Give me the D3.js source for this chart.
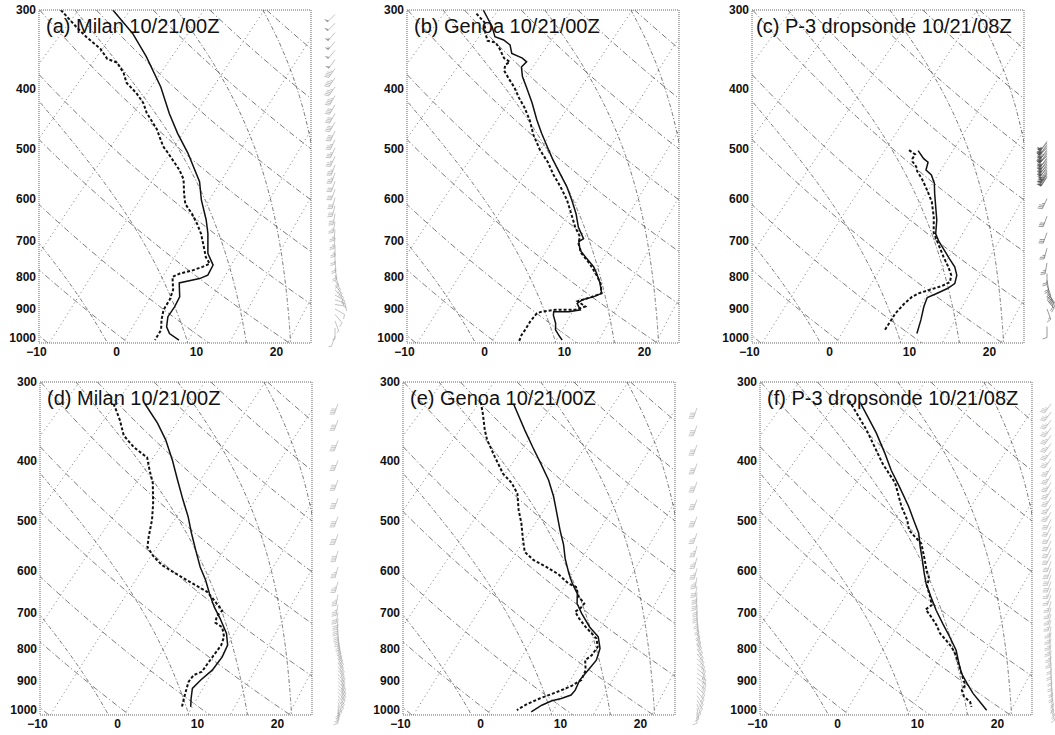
<!DOCTYPE html>
<html>
<head>
<meta charset="utf-8">
<script src="https://cdn.jsdelivr.net/npm/d3@7"></script>
<style>
  body { margin: 0; background: #fff; }
  svg { display: block; font-family: "Liberation Sans", Arial, Helvetica, sans-serif; }
</style>
</head>
<body>
<svg id="chart" width="1055" height="735"></svg>
<script>
// ---------------- axis ticks ----------------
const pressureTicks = [300, 400, 500, 600, 700, 800, 900, 1000];
const tempTicks = [-10, 0, 10, 20];

// ---------------- background isopleths ----------------
const dryAdiabatsC = [-40, -30, -20, -10, 0, 10, 20, 30, 40, 50, 60, 70, 80, 90]; // potential temperature, deg C
const moistThetaE = [280, 300, 320, 340, 360, 380];                               // saturated theta-e, K
const mixingRatios = [0.2, 0.4, 1, 2, 4, 7, 10, 16, 24];                          // g/kg

// ---------------- soundings: pressure (hPa) / temperature (deg C) ----------------
const aSolidP = [300,327,356,398,439,472,508,564,603,649,682,734,766,795,805,818,861,893,926,961,985,1009];
const aSolidT = [-42.0,-36.6,-32.0,-26.4,-22.0,-18.5,-14.7,-9.7,-7.2,-4.1,-2.2,0.3,2.4,3.0,2.4,0.4,2.2,2.8,3.2,4.3,5.5,7.5];
const aDashP = [300,319,331,346,359,364,378,392,407,422,438,465,495,506,525,540,559,590,612,635,659,683,717,744,762,771,781,790,800,839,870,903,937,972,1009];
const aDashT = [-48.5,-44.5,-42.0,-38.7,-36.6,-34.9,-32.8,-31.2,-28.7,-26.6,-24.9,-21.6,-18.7,-17.4,-15.3,-13.7,-12.0,-10.1,-8.7,-6.6,-4.7,-3.0,-1.0,0.5,1.8,1.3,0.5,-0.7,-1.2,0.5,1.3,1.8,2.8,4.0,4.5];

const bSolidP = [300,319,331,335,341,352,358,363,370,383,398,422,449,472,495,521,547,574,603,635,666,695,703,725,748,771,790,820,850,861,870,882,903,909,909,921,949,972,997,1009];
const bSolidT = [-41.7,-38.5,-36.9,-35.4,-34.0,-32.7,-30.8,-29.8,-29.8,-28.5,-26.7,-24.0,-21.3,-19.0,-16.7,-14.2,-11.7,-9.2,-6.9,-4.6,-2.7,-0.6,-0.8,0.4,2.3,4.2,5.4,7.1,8.5,7.9,6.9,6.7,7.9,6.7,4.8,5.2,6.5,7.3,8.7,9.4];
const bDashP = [304,314,327,336,338,346,358,363,367,375,387,399,414,429,450,475,502,525,550,574,603,635,666,690,708,734,762,795,819,850,861,867,875,892,903,903,909,915,943,972,991,1015];
const bDashT = [-42.1,-40.0,-38.5,-37.3,-36.1,-34.8,-33.1,-31.9,-32.1,-31.5,-29.8,-28.1,-26.3,-24.4,-22.1,-19.8,-17.1,-14.6,-12.3,-10.0,-7.5,-5.2,-3.1,-1.3,-0.6,1.0,3.3,5.6,7.1,8.5,7.7,7.2,6.5,8.1,7.3,4.8,3.3,2.9,3.1,3.5,3.7,4.2];

const cSolidP = [503,518,525,540,550,567,590,618,649,683,703,725,748,771,795,820,835,852,863,892,937,985];
const cSolidT = [-12.9,-11.2,-10.2,-9.5,-8.2,-6.8,-5.4,-3.7,-1.9,-0.3,1.1,2.8,4.5,6.2,7.5,8.3,8.0,7.2,6.6,7.3,8.6,9.8];
const cDashP = [502,510,518,524,530,536,543,559,582,607,641,680,712,744,771,795,815,827,838,850,861,884,915,976];
const cDashT = [-14.1,-12.8,-12.6,-12.2,-11.5,-10.9,-10.4,-8.8,-6.8,-4.8,-2.7,-0.7,1.5,3.6,5.4,6.8,7.5,7.0,6.0,5.0,4.6,4.5,4.6,5.4];

const dSolidP = [325,349,371,400,430,463,492,523,556,592,621,653,685,715,756,789,824,865,897,925,960,990];
const dSolidT = [-35.4,-31.4,-28.3,-24.9,-21.8,-18.6,-15.9,-13.4,-10.8,-8.1,-5.8,-3.6,-1.4,0.8,3.5,5.1,5.9,6.3,6.1,6.1,7.2,8.2];
const dDashP = [325,345,365,381,396,415,435,469,498,530,550,570,588,606,629,648,669,695,709,727,739,765,789,816,844,870,881,903,937,960,990];
const dDashT = [-39.3,-36.5,-34.1,-31.4,-28.4,-26.5,-24.5,-21.9,-20.0,-18.3,-17.2,-15.2,-13.1,-10.4,-7.0,-4.2,-2.2,0.1,0.1,0.8,2.2,3.6,4.3,4.6,4.9,5.2,4.6,4.8,5.7,6.3,7.1];

const eSolidP = [325,358,381,405,430,457,486,517,546,574,606,629,653,677,702,738,765,799,834,865,897,931,948,960,968,984,1008];
const eSolidT = [-34.7,-30.0,-26.9,-23.8,-20.8,-18.1,-15.6,-13.1,-10.8,-8.9,-6.6,-4.9,-3.0,-1.8,0.0,2.7,5.0,6.7,7.7,7.9,8.1,8.8,8.9,8.1,7.2,6.5,6.0];
const eDashP = [323,337,358,371,395,420,435,452,480,504,536,560,577,592,608,629,637,661,677,687,698,715,738,756,770,794,819,834,865,897,917,940,960,980,1002];
const eDashT = [-39.0,-37.3,-35.0,-33.5,-30.4,-27.3,-25.0,-23.0,-20.8,-18.8,-16.5,-14.8,-12.7,-10.2,-7.8,-5.4,-4.0,-2.4,-0.9,-0.8,-1.0,0.3,2.2,3.8,5.0,6.2,6.5,6.3,7.6,8.3,7.8,6.6,5.4,4.5,4.0];

const fSolidP = [325,341,362,390,415,441,474,498,523,550,577,606,629,661,694,729,765,804,844,876,908,942,978,1002];
const fSolidT = [-35.9,-33.4,-30.3,-26.7,-23.8,-20.7,-17.1,-14.8,-12.5,-10.6,-8.7,-6.8,-5.3,-3.0,-0.7,1.8,4.3,6.8,8.8,10.4,12.3,14.3,16.6,18.1];
const fDashP = [321,358,405,435,474,498,517,530,543,570,599,618,633,661,681,692,711,733,756,775,794,819,849,886,914,931,952,972,990];
const fDashT = [-37.8,-31.9,-25.7,-21.7,-18.0,-15.6,-14.1,-12.5,-10.9,-8.9,-6.9,-5.5,-5.0,-3.1,-1.9,-2.1,-0.5,1.2,2.7,4.3,5.8,7.4,9.0,10.9,12.3,12.5,13.5,15.0,15.8];

// ---------------- winds: pressure (hPa), speed (kt), direction (deg) ----------------
const windAP = [305,315,326,337,348,360,372,385,398,411,425,439,453,468,483,498,514,530,546,563,580,598,616,634,653,672,692,712,733,754,775,795,810,825,840,855,870,885,900,918,940,965,995];
const windAS = [50,50,55,55,50,50,45,45,45,45,40,40,40,40,35,35,35,35,35,30,30,30,30,30,25,25,25,25,20,20,20,15,15,20,15,20,15,10,10,10,5,5,5];
const windAD = [225,225,220,220,220,215,215,215,215,210,210,210,210,205,205,205,205,200,200,200,200,195,195,190,190,185,185,180,180,175,170,160,150,140,130,120,110,100,120,140,160,180,200];

const windCP = [486,489,492,495,498,501,504,507,510,513,516,519,522,525,528,531,534,537,540,543,546,549,552,555,600,640,680,720,760,790,810,825,840,850,860,870,900,960];
const windCS = [55,60,60,55,60,65,60,55,60,60,55,60,55,60,55,55,50,55,50,50,45,50,45,50,35,30,30,25,25,20,20,25,30,30,25,20,15,10];
const windCD = [215,220,215,220,225,215,220,215,220,225,215,220,215,220,215,220,215,220,215,210,210,215,210,215,205,200,200,195,190,180,170,160,150,140,130,140,160,180];

const windDP = [325,345,372,400,430,460,492,525,558,592,625,655,680,700,715,730,745,758,770,782,794,806,818,830,842,854,866,878,890,902,914,926,938,950,962,974,986,998,1010];
const windDS = [40,40,40,40,40,40,40,40,40,35,35,35,35,30,30,30,30,30,25,25,25,25,25,20,20,20,20,25,25,30,30,30,25,25,20,20,20,15,15];
const windDD = [200,200,200,200,200,200,200,200,195,195,195,190,190,190,185,185,180,175,170,165,160,155,150,150,145,145,140,140,140,135,135,135,140,145,150,160,170,175,180];

const windEP = [330,352,378,405,433,462,492,523,548,572,595,615,635,650,665,680,695,710,725,740,755,770,785,800,815,830,845,860,875,890,905,920,935,950,965,980,995,1010];
const windES = [40,40,40,40,40,40,40,35,35,35,35,35,30,30,30,30,30,25,25,25,25,25,20,20,20,20,20,20,25,25,25,20,20,20,15,15,15,10];
const windED = [200,200,200,200,200,200,200,200,195,195,195,190,190,185,185,180,180,175,170,165,160,155,150,145,140,135,130,130,125,125,130,135,140,145,150,160,170,180];

const windFP = [325,335,345,355,365,376,387,398,410,422,434,446,458,471,484,497,510,524,538,552,566,580,595,610,625,640,656,672,688,704,720,737,754,771,788,805,822,840,858,876,894,912,930,948,966,984,1000];
const windFS = [35,35,35,35,35,35,35,35,35,35,35,35,35,35,35,30,30,30,30,30,30,30,30,30,30,25,25,25,25,25,25,25,25,25,25,25,25,20,20,20,20,20,20,15,15,15,15];
const windFD = [215,215,215,215,215,215,215,215,210,210,210,210,210,210,210,205,205,205,205,205,205,200,200,200,200,200,200,195,195,195,195,190,190,190,190,185,185,180,180,175,175,170,170,165,165,160,160];

// ---------------- geometry ----------------
const W = 272, H = 333;
const P_TOP = 300, P_BOT = 1020, SKEW = 34;   // deg C of horizontal shift per unit ln(p)
const x = d3.scaleLinear().domain([-9.625, 24.375]).range([0, W]);
const y = d3.scaleLog().domain([P_TOP, P_BOT]).range([0, H]);
const skewX = (T, p) => x(T + SKEW * Math.log(P_BOT / p));

const panels = [
  { title: "(a) Milan 10/21/00Z",          left: 39,  top: 10,  s: [aSolidP, aSolidT], d: [aDashP, aDashT], wind: [windAP, windAS, windAD], windX: 296, windInk: "#9a9a9a" },
  { title: "(b) Genoa 10/21/00Z",          left: 407, top: 10,  s: [bSolidP, bSolidT], d: [bDashP, bDashT], wind: null },
  { title: "(c) P-3 dropsonde 10/21/08Z",  left: 752, top: 10,  s: [cSolidP, cSolidT], d: [cDashP, cDashT], wind: [windCP, windCS, windCD], windX: 295, windInk: "#555" },
  { title: "(d) Milan 10/21/00Z",          left: 40,  top: 382, s: [dSolidP, dSolidT], d: [dDashP, dDashT], wind: [windDP, windDS, windDD], windX: 298, windInk: "#a5a5a5" },
  { title: "(e) Genoa 10/21/00Z",          left: 403, top: 382, s: [eSolidP, eSolidT], d: [eDashP, eDashT], wind: [windEP, windES, windED], windX: 294, windInk: "#a5a5a5" },
  { title: "(f) P-3 dropsonde 10/21/08Z",  left: 760, top: 382, s: [fSolidP, fSolidT], d: [fDashP, fDashT], wind: [windFP, windFS, windFD], windX: 291, windInk: "#a5a5a5" }
];

// ---------------- thermodynamics for the background ----------------
const levels = d3.range(P_TOP, P_BOT + 1, 4);
const satVap = T => 6.112 * Math.exp(17.67 * T / (T + 243.5));
function thetaES(T, p) {
  const TK = T + 273.15, es = satVap(T), r = 622 * es / (p - es);
  return TK * Math.pow(1000 / p, 0.2854 * (1 - 0.00028 * r)) *
         Math.exp((3.376 / TK - 0.00254) * r * (1 + 0.00081 * r));
}
function tempOnMoist(te, p) {
  let lo = -110, hi = 45;
  for (let i = 0; i < 50; i++) {
    const mid = (lo + hi) / 2;
    if (thetaES(mid, p) > te) hi = mid; else lo = mid;
  }
  return (lo + hi) / 2;
}
function dewFromMix(w, p) {
  const e = w * p / (622 + w), l = Math.log(e / 6.112);
  return 243.5 * l / (17.67 - l);
}
const dryLines = dryAdiabatsC.map(th => levels.map(p => [skewX((th + 273.15) * Math.pow(p / 1000, 0.2857) - 273.15, p), y(p)]));
const moistLines = moistThetaE.map(te => levels.map(p => [skewX(tempOnMoist(te, p), p), y(p)]));
const mixLines = mixingRatios.map(w => levels.map(p => [skewX(dewFromMix(w, p), p), y(p)]));

const svg = d3.select("#chart");
const path = d3.line();
const profile = d3.line().x(d => skewX(d[1], d[0])).y(d => y(d[0]));

// wind barb glyph: staff points toward the direction the wind blows from
function drawBarb(g, bx, by, spd, dir, ink) {
  const a = dir * Math.PI / 180, len = 11;
  const ux = Math.sin(a), uy = -Math.cos(a);
  const nx = -uy, ny = ux;
  const tx = bx + ux * len, ty = by + uy * len;
  let d = `M${bx},${by}L${tx},${ty}`;
  let flags = "";
  let rem = Math.round(spd / 5) * 5, pos = 0;
  while (rem >= 50) {
    const px = tx - ux * pos, py = ty - uy * pos;
    flags += `M${px},${py}L${px + nx * 4.5},${py + ny * 4.5}L${px - ux * 2.5},${py - uy * 2.5}Z`;
    rem -= 50; pos += 3;
  }
  while (rem >= 10) {
    const px = tx - ux * pos, py = ty - uy * pos;
    d += `M${px},${py}L${px + nx * 4.5 + ux * 1.5},${py + ny * 4.5 + uy * 1.5}`;
    rem -= 10; pos += 1.8;
  }
  if (rem >= 5) {
    const px = tx - ux * pos, py = ty - uy * pos;
    d += `M${px},${py}L${px + nx * 2.4 + ux * 0.8},${py + ny * 2.4 + uy * 0.8}`;
  }
  g.append("path").attr("d", d).attr("fill", "none").attr("stroke", ink).attr("stroke-width", 0.6);
  if (flags) g.append("path").attr("d", flags).attr("fill", ink).attr("stroke", "none");
}

panels.forEach((pn, i) => {
  const g = svg.append("g").attr("transform", `translate(${pn.left},${pn.top})`);
  const clipId = "clip" + i;
  g.append("clipPath").attr("id", clipId).append("rect").attr("width", W).attr("height", H);
  const inner = g.append("g").attr("clip-path", `url(#${clipId})`);

  inner.selectAll(".mix").data(mixLines).join("path").attr("class", "mix")
    .attr("d", path).attr("fill", "none").attr("stroke", "#7a7a7a")
    .attr("stroke-width", 0.9).attr("stroke-dasharray", "1.2,3");
  inner.selectAll(".dry").data(dryLines).join("path").attr("class", "dry")
    .attr("d", path).attr("fill", "none").attr("stroke", "#555")
    .attr("stroke-width", 0.8).attr("stroke-dasharray", "6,2.5,1.2,2.5");
  inner.selectAll(".moist").data(moistLines).join("path").attr("class", "moist")
    .attr("d", path).attr("fill", "none").attr("stroke", "#555")
    .attr("stroke-width", 0.8).attr("stroke-dasharray", "4,2,1.2,2");

  const solid = pn.s[0].map((p, k) => [p, pn.s[1][k]]);
  const dash = pn.d[0].map((p, k) => [p, pn.d[1][k]]);
  inner.append("path").attr("d", profile(dash)).attr("fill", "none")
    .attr("stroke", "#111").attr("stroke-width", 2).attr("stroke-dasharray", "3,2");
  inner.append("path").attr("d", profile(solid)).attr("fill", "none")
    .attr("stroke", "#111").attr("stroke-width", 1.5);

  g.append("rect").attr("width", W).attr("height", H).attr("fill", "none")
    .attr("stroke", "#666").attr("stroke-width", 1).attr("stroke-dasharray", "1,1");

  const yAxis = g.append("g").call(d3.axisLeft(y).tickValues(pressureTicks).tickFormat(d3.format("d")).tickSize(0).tickPadding(3));
  const xAxis = g.append("g").attr("transform", `translate(0,${H})`)
    .call(d3.axisBottom(x).tickValues(tempTicks).tickFormat(d3.format("d")).tickSize(0).tickPadding(4));
  [yAxis, xAxis].forEach(ax => {
    ax.select(".domain").remove();
    ax.selectAll("text").attr("font-size", 12).attr("font-weight", "bold").attr("fill", "#111")
      .attr("font-family", "'Liberation Sans', Arial, sans-serif");
  });

  g.append("text").attr("x", i === 2 ? 4 : 7).attr("y", 23).attr("font-size", 20).attr("fill", "#111")
    .text(pn.title);

  if (pn.wind) {
    const wg = g.append("g");
    pn.wind[0].forEach((p, k) => drawBarb(wg, pn.windX, y(p), pn.wind[1][k], pn.wind[2][k], pn.windInk));
  }
});
</script>
</body>
</html>
